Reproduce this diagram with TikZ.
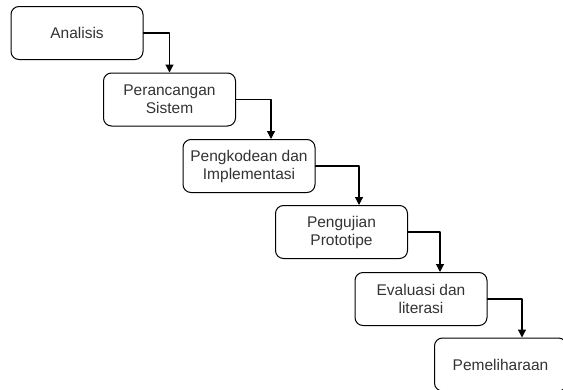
\documentclass[tikz,border=0pt]{standalone}
\usepackage{fontspec}
\setmainfont{Liberation Sans}
\usetikzlibrary{arrows.meta}

\begin{document}
\begin{tikzpicture}[line cap=round,line join=round,x=1pt,y=-1pt,
  stage/.style={draw=black,line width=1pt,rounded corners=8pt,minimum width=132pt,minimum height=53pt,
    align=center,inner sep=0pt,text=black!80,font=\fontsize{15.5}{18}\selectfont},
  flow/.style={line width=1.2pt,-{Triangle[width=8pt,length=8pt]}}]
\clip (0,0) rectangle (563,389);
\fill[white] (0,0) rectangle (563,389);
\node[stage] (ana) at (77,33) {Analisis};
\node[stage] (per) at (169.5,99.5) {Perancangan\\Sistem};
\node[stage] (kod) at (249,166) {Pengkodean dan\\Implementasi};
\node[stage] (uji) at (341.5,232) {Pengujian\\Prototipe};
\node[stage] (eva) at (421,299) {Evaluasi dan\\literasi};
\node[stage] (pem) at (500.5,364.5) {Pemeliharaan};
\draw[flow] (ana.east) -| (per.north);
\draw[flow] (per.east) -| ([xshift=22pt]kod.north);
\draw[flow] (kod.east) -| ([xshift=17.5pt]uji.north);
\draw[flow] (uji.east) -| ([xshift=19pt]eva.north);
\draw[flow] (eva.east) -| ([xshift=21.5pt]pem.north);
\end{tikzpicture}
\end{document}
